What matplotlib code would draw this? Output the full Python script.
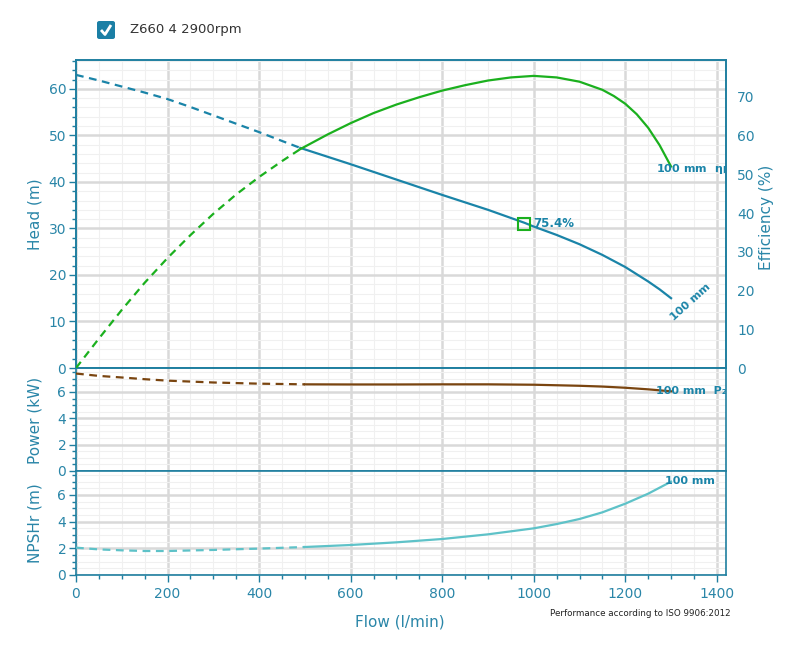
import matplotlib
matplotlib.use("Agg")
import matplotlib.pyplot as plt
from matplotlib.patches import FancyBboxPatch
from matplotlib.ticker import MultipleLocator

# ---------------- data ----------------
head_flow_dash = [0, 50, 100, 150, 200, 250, 300, 350, 400, 450, 490]
head_dash = [63.0, 61.8, 60.5, 59.2, 57.8, 56.1, 54.3, 52.5, 50.7, 48.8, 47.3]
head_flow = [490, 600, 700, 800, 900, 980, 1000, 1050, 1100, 1150, 1200, 1250, 1275, 1300]
head = [47.3, 43.8, 40.5, 37.2, 34.0, 31.2, 30.4, 28.6, 26.6, 24.3, 21.7, 18.6, 16.9, 15.0]

eff_flow_dash = [0, 50, 100, 150, 200, 250, 300, 350, 400, 450, 490]
eff_dash = [0.0, 7.6, 15.0, 22.0, 28.4, 34.3, 39.8, 44.8, 49.3, 53.4, 56.5]
eff_flow = [490, 550, 600, 650, 700, 750, 800, 850, 900, 950, 1000, 1050,
            1100, 1150, 1175, 1200, 1225, 1250, 1275, 1300]
eff = [56.5, 60.3, 63.2, 65.8, 68.0, 69.9, 71.6, 73.0, 74.2, 75.0, 75.4, 75.0,
       73.9, 71.8, 70.2, 68.2, 65.5, 62.0, 57.5, 52.0]

pow_flow_dash = [0, 50, 100, 150, 200, 300, 400, 500]
pow_dash = [7.4, 7.22, 7.1, 6.97, 6.86, 6.72, 6.63, 6.58]
pow_flow = [500, 600, 700, 800, 900, 1000, 1100, 1150, 1200, 1250, 1300]
power = [6.58, 6.57, 6.57, 6.58, 6.58, 6.55, 6.47, 6.41, 6.32, 6.2, 6.05]

npsh_flow_dash = [0, 50, 100, 150, 200, 300, 400, 500]
npsh_dash = [2.05, 1.92, 1.85, 1.8, 1.8, 1.88, 1.98, 2.1]
npsh_flow = [500, 600, 700, 800, 900, 1000, 1050, 1100, 1150, 1200, 1250, 1300]
npsh = [2.1, 2.25, 2.45, 2.7, 3.05, 3.5, 3.82, 4.2, 4.7, 5.35, 6.1, 7.0]

bep_flow = 978
bep_head = 31.0
bep_label = "75.4%"
curve_label = "100 mm"
legend_text = "Z660 4 2900rpm"

# ---------------- style ----------------
TEAL = "#1f7fa0"
TICK = "#2a86a8"
HEAD_C = "#1a84a8"
GREEN = "#1bb01e"
BROWN = "#7a4510"
NPSH_C = "#5ec2c8"
GMAJ = "#d9d9d9"
GMIN = "#f0f0f0"
DASH = (0, (3.5, 2.5))

fig = plt.figure(figsize=(7.92, 6.57), dpi=100)
L, W = 76 / 792, 650 / 792
H = 657


def rect(top, bot):
    return [L, 1 - bot / H, W, (bot - top) / H]


ax_h = fig.add_axes(rect(60, 368))
ax_p = fig.add_axes(rect(368, 471))
ax_n = fig.add_axes(rect(471, 575))
XMAX = 1420


def style(ax, ymax, ymaj, ymin, showx=False):
    ax.set_xlim(0, XMAX)
    ax.set_ylim(0, ymax)
    ax.xaxis.set_major_locator(MultipleLocator(200))
    ax.xaxis.set_minor_locator(MultipleLocator(50))
    ax.yaxis.set_major_locator(MultipleLocator(ymaj))
    ax.yaxis.set_minor_locator(MultipleLocator(ymin))
    ax.grid(which="major", color=GMAJ, lw=1.8, zorder=0)
    ax.grid(which="minor", color=GMIN, lw=0.8, zorder=0)
    ax.set_axisbelow(True)
    for s in ax.spines.values():
        s.set_color(TEAL)
        s.set_linewidth(1.2)
    ax.tick_params(axis="y", which="major", length=5, color=TEAL,
                   labelcolor=TICK, labelsize=10, width=1, pad=2)
    ax.tick_params(axis="y", which="minor", length=3, color=TEAL, width=1)
    if showx:
        ax.tick_params(axis="x", which="major", length=5, color=TEAL,
                       labelcolor=TICK, labelsize=10, width=1, pad=4)
        ax.tick_params(axis="x", which="minor", length=3, color=TEAL, width=1)
    else:
        ax.tick_params(axis="x", which="both", length=0, labelbottom=False)


style(ax_h, 66.2, 10, 2)
style(ax_p, 7.82, 2, 0.5)
style(ax_n, 7.8, 2, 0.5, showx=True)

EMAX = 79.5
ax_e = ax_h.twinx()
ax_e.set_ylim(0, EMAX)
ax_e.yaxis.set_major_locator(MultipleLocator(10))
ax_e.tick_params(axis="y", length=0, labelcolor=TICK, labelsize=10, pad=8)
for s in ax_e.spines.values():
    s.set_color(TEAL)
    s.set_linewidth(1.2)

# curves
ax_h.plot(head_flow_dash, head_dash, color=HEAD_C, lw=1.6, ls=DASH, zorder=3)
ax_h.plot(head_flow, head, color=HEAD_C, lw=1.6, zorder=3)
ax_e.plot(eff_flow_dash, eff_dash, color=GREEN, lw=1.6, ls=DASH, zorder=3)
ax_e.plot(eff_flow, eff, color=GREEN, lw=1.6, zorder=3)
ax_p.plot(pow_flow_dash, pow_dash, color=BROWN, lw=1.6, ls=DASH, zorder=3)
ax_p.plot(pow_flow, power, color=BROWN, lw=1.6, zorder=3)
ax_n.plot(npsh_flow_dash, npsh_dash, color=NPSH_C, lw=1.6, ls=DASH, zorder=3)
ax_n.plot(npsh_flow, npsh, color=NPSH_C, lw=1.6, zorder=3)

# BEP
ax_e.plot([bep_flow], [bep_head * EMAX / 66.2], marker="s", ms=8, mfc="none",
          mec=GREEN, mew=1.5, zorder=5)
ax_e.text(bep_flow + 20, bep_head * EMAX / 66.2, bep_label, color=HEAD_C,
          fontsize=8.5, fontweight="bold", va="center", ha="left", zorder=6)

# curve labels
lab = dict(color=HEAD_C, fontsize=8, fontweight="bold", zorder=6)
ax_e.text(1266, 51.4, curve_label + "  \u03b7$_\\mathregular{P}$", va="center",
          ha="left", clip_on=True, **lab)
ax_h.text(1342, 14.2, curve_label, rotation=42, va="center", ha="center",
          rotation_mode="anchor", **lab)
ax_p.text(1268, 6.05, curve_label + "  P\u2082", va="center", ha="left",
          clip_on=True, **lab)
ax_n.text(1287, 7.05, curve_label, va="center", ha="left", **lab)

# axis labels
fig.text(35 / 792, 1 - 214 / H, "Head (m)", rotation=90, color=TICK,
         fontsize=11, ha="center", va="center")
fig.text(35 / 792, 1 - 420 / H, "Power (kW)", rotation=90, color=TICK,
         fontsize=11, ha="center", va="center")
fig.text(35 / 792, 1 - 523 / H, "NPSHr (m)", rotation=90, color=TICK,
         fontsize=11, ha="center", va="center")
fig.text(767 / 792, 1 - 217 / H, "Efficiency (%)", rotation=90, color=TICK,
         fontsize=11, ha="center", va="center")
fig.text(400 / 792, 1 - 622 / H, "Flow (l/min)", color=TICK, fontsize=11,
         ha="center", va="center")
fig.text(731 / 792, 1 - 613 / H, "Performance according to ISO 9906:2012",
         color="#222222", fontsize=6.3, ha="right", va="center")

# legend checkbox
box = FancyBboxPatch((97 / 792, 1 - 39 / H), 18 / 792, 18 / H,
                     boxstyle="round,pad=0,rounding_size=0.003",
                     transform=fig.transFigure, facecolor="#1b7fa5",
                     edgecolor="none")
fig.patches.append(box)
fig.lines.append(plt.Line2D([101 / 792, 105 / 792, 111 / 792],
                            [1 - 30 / H, 1 - 34.5 / H, 1 - 25 / H],
                            transform=fig.transFigure, color="white", lw=2,
                            solid_capstyle="butt"))
fig.text(130 / 792, 1 - 30 / H, legend_text, color="#333333", fontsize=9.5,
         ha="left", va="center")

fig.savefig("out.png", dpi=100)
